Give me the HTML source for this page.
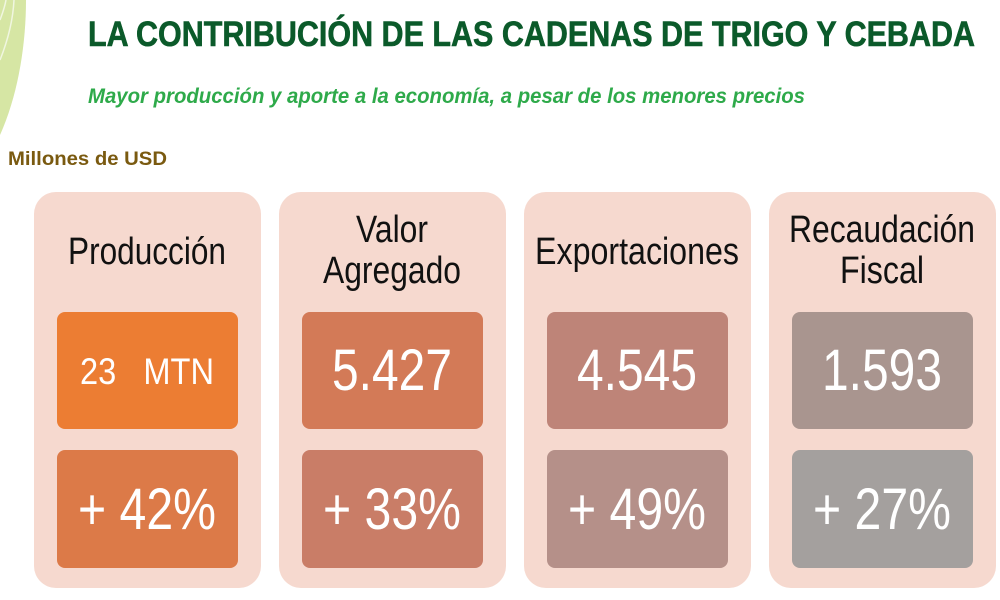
<!DOCTYPE html>
<html><head><meta charset="utf-8"><style>body{margin:0;background:#fff}svg{display:block}</style></head><body>
<svg width="1000" height="600" viewBox="0 0 1000 600" xmlns="http://www.w3.org/2000/svg" font-family="Liberation Sans, sans-serif">
<path d="M0,135 C18,95 26,45 26,0 L0,0 Z" fill="#d6e6a4"/>
<path d="M0,60 C8,40 13,20 14,0" stroke="#f0f6e0" stroke-width="1.5" fill="none"/>
<path d="M0,20 C3,12 5,6 6,0" stroke="#f0f6e0" stroke-width="1.5" fill="none"/>
<text x="88" y="46" font-size="35" font-weight="bold" fill="#0b5a2a" stroke="#0b5a2a" stroke-width="0.6" textLength="887" lengthAdjust="spacingAndGlyphs">LA CONTRIBUCIÓN DE LAS CADENAS DE TRIGO Y CEBADA</text>
<text x="88" y="103" font-size="21" font-weight="bold" font-style="italic" fill="#2eaa4a" textLength="717" lengthAdjust="spacingAndGlyphs">Mayor producción y aporte a la economía, a pesar de los menores precios</text>
<text x="8" y="165" font-size="19" font-weight="bold" fill="#7a5a10" textLength="159" lengthAdjust="spacingAndGlyphs">Millones de USD</text>
<g>
<rect x="34" y="192" width="227" height="396" rx="22" fill="#f6d9cf"/>
<rect x="279" y="192" width="227" height="396" rx="22" fill="#f6d9cf"/>
<rect x="524" y="192" width="227" height="396" rx="22" fill="#f6d9cf"/>
<rect x="769" y="192" width="227" height="396" rx="22" fill="#f6d9cf"/>
<rect x="57" y="312" width="181" height="117" rx="8" fill="#ec7d33"/>
<rect x="57" y="450" width="181" height="118" rx="8" fill="#dc7a48"/>
<rect x="302" y="312" width="181" height="117" rx="8" fill="#d37a57"/>
<rect x="302" y="450" width="181" height="118" rx="8" fill="#c97d67"/>
<rect x="547" y="312" width="181" height="117" rx="8" fill="#be8478"/>
<rect x="547" y="450" width="181" height="118" rx="8" fill="#b59089"/>
<rect x="792" y="312" width="181" height="117" rx="8" fill="#a9958f"/>
<rect x="792" y="450" width="181" height="118" rx="8" fill="#a4a09e"/>
</g>
<g font-size="38" fill="#111" text-anchor="middle">
<text x="147" y="264" textLength="158" lengthAdjust="spacingAndGlyphs">Producción</text>
<text x="392" y="242" textLength="72" lengthAdjust="spacingAndGlyphs">Valor</text>
<text x="392" y="283" textLength="138" lengthAdjust="spacingAndGlyphs">Agregado</text>
<text x="637" y="264" textLength="204" lengthAdjust="spacingAndGlyphs">Exportaciones</text>
<text x="882" y="242" textLength="186" lengthAdjust="spacingAndGlyphs">Recaudación</text>
<text x="882" y="283" textLength="84" lengthAdjust="spacingAndGlyphs">Fiscal</text>
</g>
<g fill="#fff" text-anchor="middle">
<text x="147" y="384" font-size="37" textLength="134" lengthAdjust="spacingAndGlyphs" xml:space="preserve">23   MTN</text>
<text x="392" y="390" font-size="58" textLength="120" lengthAdjust="spacingAndGlyphs">5.427</text>
<text x="637" y="390" font-size="58" textLength="120" lengthAdjust="spacingAndGlyphs">4.545</text>
<text x="882" y="390" font-size="58" textLength="120" lengthAdjust="spacingAndGlyphs">1.593</text>
<text x="147" y="529" font-size="58" textLength="138" lengthAdjust="spacingAndGlyphs">+ 42%</text>
<text x="392" y="529" font-size="58" textLength="138" lengthAdjust="spacingAndGlyphs">+ 33%</text>
<text x="637" y="529" font-size="58" textLength="138" lengthAdjust="spacingAndGlyphs">+ 49%</text>
<text x="882" y="529" font-size="58" textLength="138" lengthAdjust="spacingAndGlyphs">+ 27%</text>
</g>
</svg>
</body></html>
